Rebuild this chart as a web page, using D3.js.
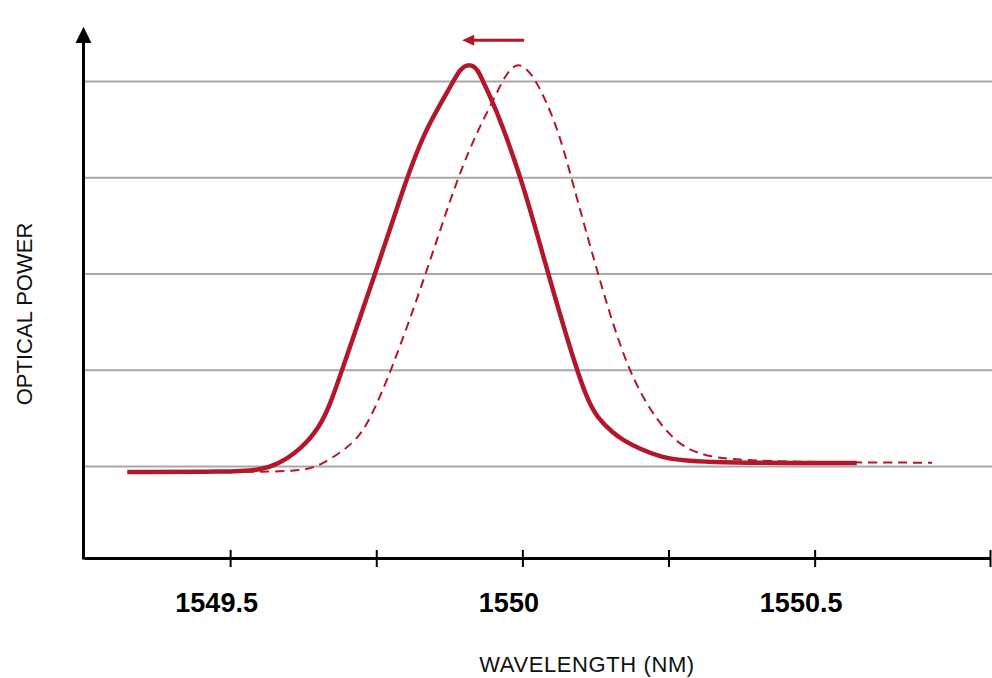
<!DOCTYPE html>
<html>
<head>
<meta charset="utf-8">
<script src="https://cdn.jsdelivr.net/npm/d3@7"></script>
<style>
  html, body { margin: 0; padding: 0; background: #fff; }
  svg { display: block; font-family: "Liberation Sans", Arial, sans-serif; }
</style>
</head>
<body>
<svg id="chart" width="992" height="678"></svg>
<script>
// --- data (wavelength in nm, power in grid units) ---
const solidWl = [1549.324, 1549.50, 1549.551, 1549.580, 1549.620, 1549.654, 1549.674, 1549.691,
  1549.748, 1549.802, 1549.821, 1549.839, 1549.880, 1549.893, 1549.909, 1549.924, 1549.933,
  1549.951, 1549.999, 1550.044, 1550.093, 1550.112, 1550.127, 1550.155, 1550.172, 1550.201,
  1550.235, 1550.290, 1550.572];
const solidPower = [-0.056, -0.056, -0.035, 0.017, 0.172, 0.412, 0.692, 0.996,
  1.998, 2.996, 3.29, 3.55, 3.98, 4.13, 4.19, 4.13, 3.99,
  3.78, 2.996, 1.998, 0.996, 0.692, 0.515, 0.349, 0.276, 0.183,
  0.10, 0.037, 0.037];

const dashedWl = [1549.50, 1549.620, 1549.654, 1549.714, 1549.739, 1549.776, 1549.835, 1549.888,
  1549.928, 1549.950, 1549.965, 1549.979, 1549.993, 1550.008, 1550.025, 1550.059, 1550.084,
  1550.129, 1550.179, 1550.232, 1550.270, 1550.299, 1550.355, 1550.701];
const dashedPower = [-0.056, -0.051, 0.006, 0.245, 0.484, 0.996, 1.998, 2.996,
  3.55, 3.80, 4.00, 4.13, 4.19, 4.13, 4.00, 3.55, 2.996,
  1.998, 0.996, 0.453, 0.224, 0.141, 0.048, 0.04];

const xTicks = [1549.5, 1549.75, 1550, 1550.25, 1550.5, 1550.8];
const xTickLabels = { 1549.5: "1549.5", 1550: "1550", 1550.5: "1550.5" };
const gridValues = [0, 1, 2, 3, 4];

// shift arrow (peak moves to shorter wavelength)
const shiftFrom = 1550.003, shiftTo = 1549.897, shiftLevel = 4.43;

const red = "#b3172c";

// --- scales ---
const svg = d3.select("#chart");
const W = +svg.attr("width");

const x = d3.scaleLinear().domain([1549.25, 1550.8]).range([84, 990]);
const y = d3.scaleLinear().domain([-0.95, 4]).range([558, 81.6]);

// gridlines
svg.append("g")
  .selectAll("line")
  .data(gridValues)
  .join("line")
  .attr("x1", x(1549.25))
  .attr("x2", W)
  .attr("y1", (d) => y(d))
  .attr("y2", (d) => y(d))
  .attr("stroke", "#a8a8a8")
  .attr("stroke-width", 2);

// x axis
const xAxis = svg.append("g")
  .attr("transform", `translate(0,${y(-0.95)})`)
  .call(d3.axisBottom(x)
    .tickValues(xTicks)
    .tickSizeOuter(0)
    .tickFormat((d) => xTickLabels[d] || ""));
xAxis.select(".domain").attr("stroke", "#000").attr("stroke-width", 3);
xAxis.selectAll(".tick line")
  .attr("y1", -8).attr("y2", 9)
  .attr("stroke", "#000").attr("stroke-width", 2);
xAxis.selectAll(".tick text")
  .attr("x", -14).attr("y", 54).attr("dy", 0)
  .attr("fill", "#000")
  .style("font-family", "'Liberation Sans', Arial, sans-serif")
  .style("font-size", "27px")
  .style("font-weight", "bold");

// y axis with arrow head
const yAx = x(1549.25) - 0.5;
svg.append("line")
  .attr("x1", yAx).attr("x2", yAx)
  .attr("y1", y(-0.95) + 1.5).attr("y2", y(4.4))
  .attr("stroke", "#000").attr("stroke-width", 3);
svg.append("path")
  .attr("d", `M${yAx},${y(4.57)} L${yAx - 8},${y(4.4)} L${yAx + 8},${y(4.4)} Z`)
  .attr("fill", "#000");

// curves
const line = d3.line()
  .x((d) => x(d[0]))
  .y((d) => y(d[1]))
  .curve(d3.curveBasis);

svg.append("path")
  .datum(d3.zip(dashedWl, dashedPower))
  .attr("d", line)
  .attr("fill", "none")
  .attr("stroke", red)
  .attr("stroke-width", 2)
  .attr("stroke-dasharray", "9,6");

svg.append("path")
  .datum(d3.zip(solidWl, solidPower))
  .attr("d", line)
  .attr("fill", "none")
  .attr("stroke", red)
  .attr("stroke-width", 4.5)
  .attr("stroke-linejoin", "round");

// shift arrow
svg.append("line")
  .attr("x1", x(shiftFrom)).attr("x2", x(shiftTo) + 10)
  .attr("y1", y(shiftLevel)).attr("y2", y(shiftLevel))
  .attr("stroke", red).attr("stroke-width", 3);
svg.append("path")
  .attr("d", `M${x(shiftTo)},${y(shiftLevel)} L${x(shiftTo) + 12},${y(shiftLevel) - 5.5} L${x(shiftTo) + 12},${y(shiftLevel) + 5.5} Z`)
  .attr("fill", red);

// axis titles
svg.append("text")
  .attr("transform", `translate(32,314) rotate(-90)`)
  .attr("text-anchor", "middle")
  .attr("fill", "#111")
  .style("font-size", "22px")
  .text("OPTICAL POWER");

svg.append("text")
  .attr("x", 587).attr("y", 672)
  .attr("text-anchor", "middle")
  .attr("fill", "#111")
  .style("font-size", "22px")
  .style("letter-spacing", "0.6px")
  .text("WAVELENGTH (NM)");
</script>
</body>
</html>
